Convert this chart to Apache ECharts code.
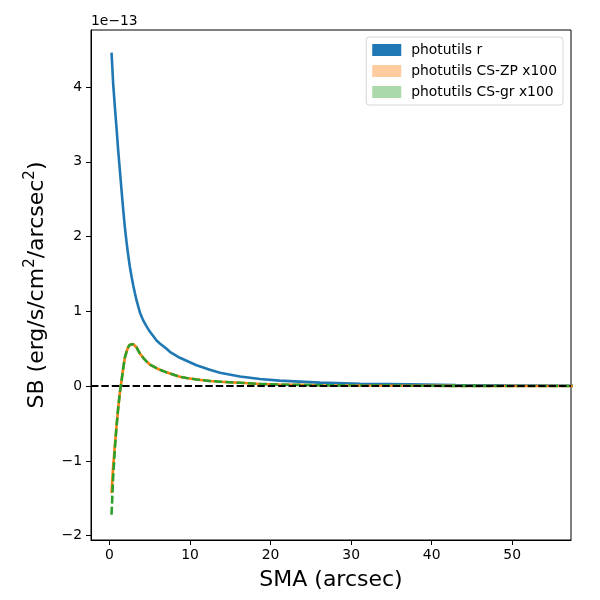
<!DOCTYPE html>
<html>
<head>
<meta charset="utf-8">
<script src="https://cdn.jsdelivr.net/npm/echarts@6/dist/echarts.min.js"></script>
<style>
  html, body { margin: 0; padding: 0; background: #fff; }
  #chart { width: 600px; height: 600px; }
</style>
</head>
<body>
<div id="chart"></div>
<script>
// semi-major axis (arcsec)
var sma = [0.25, 0.45, 0.66, 0.87, 1.07, 1.29, 1.49, 1.70, 1.90, 2.11, 2.31, 2.52, 2.73, 2.94,
  3.14, 3.35, 3.76, 4.18, 4.60, 5.00, 5.84, 6.25, 7.08, 7.49, 8.73, 9.56, 10.8, 12.46, 13.7,
  16.2, 18.7, 21.1, 26.1, 31.1, 37.3, 43.0, 49.0, 58.0];

// surface brightness, units of 1e-13
var sbR = [4.46, 4.05, 3.74, 3.45, 3.16, 2.88, 2.62, 2.36, 2.13, 1.93, 1.76, 1.60, 1.47, 1.35,
  1.25, 1.15, 0.99, 0.88, 0.80, 0.73, 0.61, 0.57, 0.50, 0.46, 0.38, 0.34, 0.28, 0.22, 0.18,
  0.13, 0.095, 0.074, 0.047, 0.033, 0.024, 0.016, 0.011, 0.006];

var sbZP = [-1.43, -1.08, -0.80, -0.53, -0.30, -0.08, 0.07, 0.24, 0.38, 0.46, 0.52, 0.555, 0.565, 0.56,
  0.55, 0.52, 0.44, 0.38, 0.33, 0.29, 0.24, 0.22, 0.185, 0.17, 0.125, 0.11, 0.09, 0.07, 0.06,
  0.045, 0.03, 0.022, 0.013, 0.009, 0.006, 0.004, 0.003, 0.002];

var sbGR = [-1.72, -1.22, -0.84, -0.54, -0.30, -0.08, 0.07, 0.24, 0.38, 0.46, 0.52, 0.555, 0.565, 0.56,
  0.55, 0.52, 0.44, 0.38, 0.33, 0.29, 0.24, 0.22, 0.185, 0.17, 0.125, 0.11, 0.09, 0.07, 0.06,
  0.045, 0.03, 0.022, 0.013, 0.009, 0.006, 0.004, 0.003, 0.002];

var xTicks = [0, 10, 20, 30, 40, 50];
var yTicks = [-2, -1, 0, 1, 2, 3, 4];

var legendNames = ['photutils r', 'photutils CS-ZP x100', 'photutils CS-gr x100'];

function pairs(xs, ys) {
  return xs.map(function (x, i) { return [x, ys[i]]; });
}

var font = 'DejaVu Sans';
var myChart = echarts.init(document.getElementById('chart'));

var option = {
  animation: false,
  backgroundColor: '#fff',
  grid: {
    left: 91, right: 29, top: 30, bottom: 60,
    show: true, borderColor: '#000', borderWidth: 1, backgroundColor: 'transparent'
  },
  graphic: [{
    type: 'text', left: 91, top: 14,
    style: { text: '1e\u221213', font: '13.9px "DejaVu Sans"', fill: '#000' }
  }],
  legend: {
    orient: 'vertical',
    right: 37, top: 37,
    padding: [5, 6, 5, 6],
    itemGap: 5,
    itemWidth: 29, itemHeight: 12,
    backgroundColor: 'rgba(255,255,255,0.8)',
    borderColor: '#d6d6d6', borderWidth: 1, borderRadius: 3,
    textStyle: { fontFamily: font, fontSize: 13.9, color: '#000', lineHeight: 16, padding: [0, 0, 0, 5] },
    data: [
      { name: legendNames[0], icon: 'rect', itemStyle: { color: '#1f77b4', borderWidth: 0 } },
      { name: legendNames[1], icon: 'rect', itemStyle: { color: '#ffcc9f', borderWidth: 0 } },
      { name: legendNames[2], icon: 'rect', itemStyle: { color: '#abd9ab', borderWidth: 0 } }
    ]
  },
  xAxis: {
    type: 'value', min: -2.3, max: 57.3,
    name: 'SMA (arcsec)', nameLocation: 'middle', nameGap: 29,
    nameTextStyle: { fontFamily: font, fontSize: 22, color: '#000' },
    axisLine: { show: true, onZero: false, lineStyle: { color: '#000', width: 1 } },
    axisTick: { show: true, length: 5, lineStyle: { color: '#000' }, customValues: xTicks },
    axisLabel: { fontFamily: font, fontSize: 13.9, color: '#000', margin: 8, customValues: xTicks },
    splitLine: { show: false }
  },
  yAxis: {
    type: 'value', min: -2.057, max: 4.763,
    name: '{a|SB (erg/s/cm}{s|2}{a|/arcsec}{s|2}{a|)}',
    nameLocation: 'middle', nameGap: 40, nameRotate: 90,
    nameTextStyle: {
      fontFamily: font, fontSize: 22, color: '#000',
      rich: {
        a: { fontFamily: font, fontSize: 22, lineHeight: 28, color: '#000' },
        s: { fontFamily: font, fontSize: 15, lineHeight: 16, verticalAlign: 'top', color: '#000' }
      }
    },
    axisLine: { show: true, onZero: false, lineStyle: { color: '#000', width: 1 } },
    axisTick: { show: true, length: 5, lineStyle: { color: '#000' }, customValues: yTicks },
    axisLabel: {
      fontFamily: font, fontSize: 13.9, color: '#000', margin: 9, customValues: yTicks,
      formatter: function (v) { return String(v).replace('-', '\u2212'); }
    },
    splitLine: { show: false }
  },
  series: [
    {
      name: legendNames[0], type: 'line', data: pairs(sma, sbR),
      showSymbol: false, symbol: 'none', z: 2,
      lineStyle: { color: '#1f77b4', width: 2.6 }, itemStyle: { color: '#1f77b4' }
    },
    {
      name: legendNames[1], type: 'line', data: pairs(sma, sbZP),
      showSymbol: false, symbol: 'none', z: 3,
      lineStyle: { color: '#ff7f0e', width: 2.6 }, itemStyle: { color: '#ff7f0e' }
    },
    {
      name: legendNames[2], type: 'line', data: pairs(sma, sbGR),
      showSymbol: false, symbol: 'none', z: 4,
      lineStyle: { color: '#2ca02c', width: 2.6, type: [8, 3.2] }, itemStyle: { color: '#2ca02c' }
    },
    {
      name: 'zero', type: 'line', data: [], z: 6, symbol: 'none',
      markLine: {
        silent: true, symbol: ['none', 'none'], label: { show: false },
        lineStyle: { color: '#000', width: 2, type: [7.4, 3] },
        data: [{ yAxis: 0 }]
      }
    }
  ]
};

myChart.setOption(option);
</script>
</body>
</html>
